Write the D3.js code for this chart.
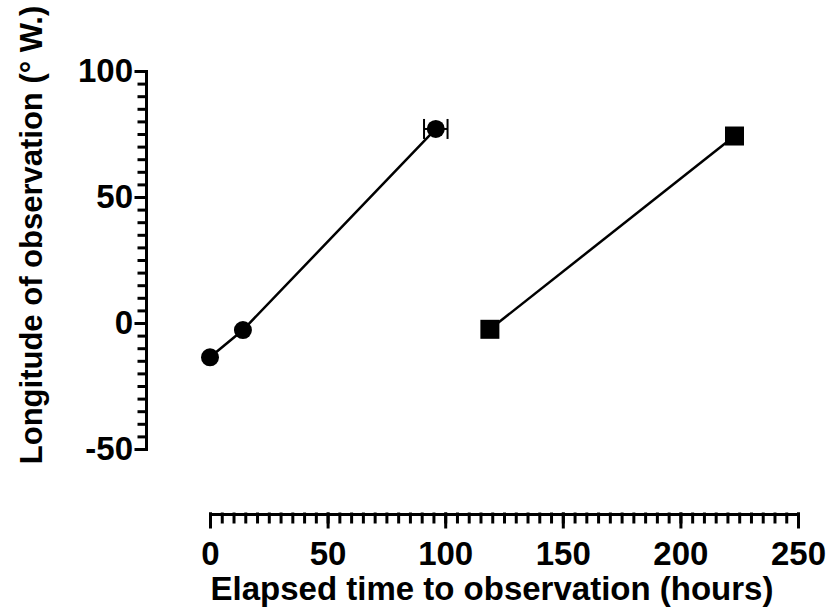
<!DOCTYPE html>
<html>
	<head>
		<title>Longitude vs elapsed time</title>
		<style type="text/css">
			body{ margin: 0; background: #fff; }
			text{ font-family: "Liberation Sans", Arial, sans-serif; font-weight: bold; }
		</style>
	</head>
	<body>
		<div id="board"></div>

	<script type="text/javascript" src="https://cdn.jsdelivr.net/npm/d3@7"></script>
	<script>
		// circles series (one point has an x error bar)
		var circleX = [0, 14, 96];
		var circleY = [-13.6, -2.8, 77];
		var circleErr = [0, 0, 5];
		// squares series
		var squareX = [119, 223];
		var squareY = [-2.5, 74.2];

		var xTicks = [0, 50, 100, 150, 200, 250];
		var yTicks = [-50, 0, 50, 100];
		var xTitle = 'Elapsed time to observation (hours)';
		var yTitle = 'Longitude of observation (° W.)';

		var svg = d3.select('#board').append('svg')
				.attr('width', 830).attr('height', 610);

		var x = d3.scaleLinear().domain([0, 250]).range([210, 798]);
		var y = d3.scaleLinear().domain([-50, 100]).range([449, 71]);

		function styleAxis( g ){
			g.selectAll('path, line').attr('stroke', '#000').attr('stroke-width', 3)
				.attr('stroke-linecap', 'square');
			g.selectAll('text').attr('fill', '#000').style('font-size', '33px');
		}
		// plain hyphen for negatives, like the original
		function fmt( d ){ return String(d); }

		// x axis: minor then major
		svg.append('g').attr('transform', 'translate(0,514)')
			.call(d3.axisBottom(x).tickValues(d3.range(0, 251, 5)).tickSize(8).tickSizeOuter(0).tickFormat(''))
			.call(styleAxis);
		svg.append('g').attr('transform', 'translate(0,514)')
			.call(d3.axisBottom(x).tickValues(xTicks).tickSize(13).tickSizeOuter(0).tickPadding(15).tickFormat(fmt))
			.call(styleAxis);

		// y axis
		svg.append('g').attr('transform', 'translate(146,0)')
			.call(d3.axisLeft(y).tickValues(d3.range(-50, 101, 5)).tickSize(7).tickSizeOuter(0).tickFormat(''))
			.call(styleAxis);
		svg.append('g').attr('transform', 'translate(146,0)')
			.call(d3.axisLeft(y).tickValues(yTicks).tickSize(10).tickSizeOuter(0).tickPadding(3).tickFormat(fmt))
			.call(styleAxis);

		// titles
		svg.append('text')
			.attr('x', 492).attr('y', 600)
			.attr('text-anchor', 'middle')
			.style('font-size', '33px')
			.text(xTitle);
		svg.append('text')
			.attr('transform', 'translate(42,235) rotate(-90)')
			.attr('text-anchor', 'middle')
			.style('font-size', '31px')
			.text(yTitle);

		var circles = circleX.map(function(d, i){ return { x: d, y: circleY[i], e: circleErr[i] }; });
		var squares = squareX.map(function(d, i){ return { x: d, y: squareY[i] }; });

		var line = d3.line()
			.x(function(d){ return x(d.x); })
			.y(function(d){ return y(d.y); });

		svg.append('path').datum(circles)
			.attr('d', line).attr('fill', 'none')
			.attr('stroke', '#000').attr('stroke-width', 2.5);
		svg.append('path').datum(squares)
			.attr('d', line).attr('fill', 'none')
			.attr('stroke', '#000').attr('stroke-width', 2.5);

		// error bars
		var eb = svg.append('g').selectAll('.eb')
			.data(circles.filter(function(d){ return d.e > 0; }))
			.enter().append('g').attr('class', 'eb');
		eb.append('line')
			.attr('x1', function(d){ return x(d.x - d.e); })
			.attr('x2', function(d){ return x(d.x + d.e); })
			.attr('y1', function(d){ return y(d.y); })
			.attr('y2', function(d){ return y(d.y); })
			.attr('stroke', '#000').attr('stroke-width', 2);
		[-1, 1].forEach(function(s){
			eb.append('line')
				.attr('x1', function(d){ return x(d.x + s * d.e); })
				.attr('x2', function(d){ return x(d.x + s * d.e); })
				.attr('y1', function(d){ return y(d.y) - 10; })
				.attr('y2', function(d){ return y(d.y) + 10; })
				.attr('stroke', '#000').attr('stroke-width', 2);
		});

		svg.selectAll('.dot')
			.data(circles)
			.enter().append('circle')
			.attr('class', 'dot')
			.attr('r', 9)
			.attr('cx', function(d){ return x(d.x); })
			.attr('cy', function(d){ return y(d.y); })
			.style('fill', '#000');

		svg.selectAll('.sq')
			.data(squares)
			.enter().append('rect')
			.attr('class', 'sq')
			.attr('width', 19).attr('height', 19)
			.attr('x', function(d){ return x(d.x) - 9.5; })
			.attr('y', function(d){ return y(d.y) - 9.5; })
			.style('fill', '#000');
	</script>
	</body>
</html>
